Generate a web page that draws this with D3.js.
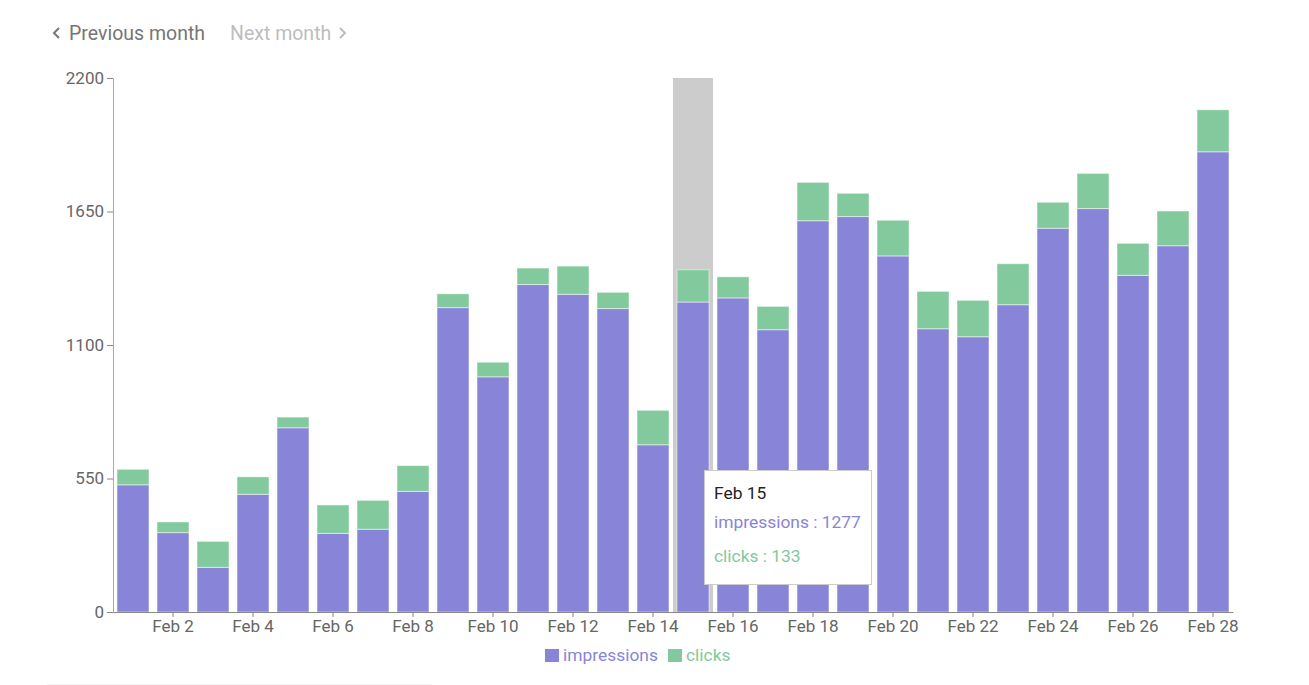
<!DOCTYPE html>
<html>
<head>
<meta charset="utf-8">
<script src="https://cdn.jsdelivr.net/npm/d3@7"></script>
<style>
  body { margin: 0; background: #fff; font-family: Roboto, sans-serif; }
  svg { display: block; }
</style>
</head>
<body>
<script>
// data
const days = d3.range(1, 29).map(d => 'Feb ' + d);
const impressions = [524, 327, 184, 485, 759, 324, 341, 497, 1254, 969, 1349, 1309, 1250, 689,
  1277, 1294, 1163, 1612, 1629, 1467, 1167, 1134, 1266, 1581, 1662, 1387, 1509, 1896];
const clicks = [64, 44, 107, 72, 44, 117, 119, 106, 57, 60, 68, 116, 67, 142,
  133, 87, 96, 158, 96, 147, 154, 150, 169, 107, 145, 132, 143, 173];
const yTicks = [0, 550, 1100, 1650, 2200];
const hovered = 'Feb 15';

const colors = { impressions: '#8884d8', clicks: '#82ca9d' };

const svg = d3.select('body').append('svg')
    .attr('width', 1309)
    .attr('height', 685);

// month navigation
const nav = svg.append('g').attr('font-size', 19.5);
nav.append('path')
    .attr('d', 'M59,28 L54,33 L59,38')
    .attr('fill', 'none').attr('stroke', '#757575').attr('stroke-width', 2);
nav.append('text').attr('x', 69).attr('y', 40).attr('fill', '#757575').text('Previous month');
nav.append('text').attr('x', 230).attr('y', 40).attr('fill', '#bdbdbd').text('Next month');
nav.append('path')
    .attr('d', 'M340,28 L345,33 L340,38')
    .attr('fill', 'none').attr('stroke', '#bdbdbd').attr('stroke-width', 2);

const x = d3.scaleBand()
    .domain(days)
    .range([113, 1233])
    .paddingInner(0.2)
    .paddingOuter(0.1);

const y = d3.scaleLinear()
    .domain([0, 2200])
    .range([612, 78]);

// hover cursor
svg.append('rect')
    .attr('x', x(hovered) - x.step() * 0.1)
    .attr('y', y(2200))
    .attr('width', x.step())
    .attr('height', y(0) - y(2200))
    .attr('fill', '#ccc');

// stacked bars
const rows = days.map((d, i) => ({ day: d, impressions: impressions[i], clicks: clicks[i] }));
const stacked = d3.stack().keys(['impressions', 'clicks'])(rows);

svg.selectAll('g.layer')
    .data(stacked)
    .enter()
    .append('g')
    .attr('class', 'layer')
    .attr('fill', s => colors[s.key])
    .selectAll('rect')
    .data(s => s)
    .enter()
    .append('rect')
    .attr('x', d => x(d.data.day))
    .attr('y', d => y(d[1]))
    .attr('width', x.bandwidth())
    .attr('height', d => y(d[0]) - y(d[1]))
    .attr('stroke', '#fff')
    .attr('stroke-opacity', 0.5)
    .attr('stroke-width', 1);

// axes
const yAxis = svg.append('g')
    .attr('transform', 'translate(113,0)')
    .call(d3.axisLeft(y).tickValues(yTicks).tickFormat(d3.format('d')).tickSizeOuter(0));
yAxis.select('.domain').attr('stroke', '#aaa');
yAxis.selectAll('.tick line').attr('stroke', '#888');
yAxis.selectAll('text').attr('fill', '#666').attr('font-size', 17).attr('font-family', 'Roboto, sans-serif');

const xAxis = svg.append('g')
    .attr('transform', 'translate(0,612)')
    .call(d3.axisBottom(x).tickValues(days.filter((d, i) => i % 2 === 1)).tickSize(5).tickSizeOuter(0));
xAxis.select('.domain').attr('stroke', '#888');
xAxis.selectAll('.tick line').attr('stroke', '#888');
xAxis.selectAll('text').attr('fill', '#666').attr('font-size', 17).attr('font-family', 'Roboto, sans-serif');

// tooltip
const hi = days.indexOf(hovered);
const tip = svg.append('g').attr('transform', `translate(${x(hovered) + 27},470)`);
tip.append('rect')
    .attr('x', 0.5).attr('y', 0.5)
    .attr('width', 167).attr('height', 114)
    .attr('fill', '#fff').attr('stroke', '#ccc');
tip.append('text').attr('x', 10).attr('y', 29).attr('font-size', 17.4).attr('fill', '#222').text(hovered);
tip.append('text').attr('x', 10).attr('y', 58).attr('font-size', 17.4).attr('fill', colors.impressions)
    .text('impressions : ' + impressions[hi]);
tip.append('text').attr('x', 10).attr('y', 92).attr('font-size', 17.4).attr('fill', colors.clicks)
    .text('clicks : ' + clicks[hi]);

// legend
const legend = svg.append('g').attr('font-size', 17.4);
[['impressions', 545], ['clicks', 668]].forEach(([k, lx]) => {
  legend.append('rect').attr('x', lx).attr('y', 649).attr('width', 14).attr('height', 13).attr('fill', colors[k]);
  legend.append('text').attr('x', lx + 18).attr('y', 661).attr('fill', colors[k]).text(k);
});

// faint divider at the bottom
svg.append('line')
    .attr('x1', 47).attr('x2', 432).attr('y1', 684.5).attr('y2', 684.5)
    .attr('stroke', '#f3f3f3');
</script>
</body>
</html>
